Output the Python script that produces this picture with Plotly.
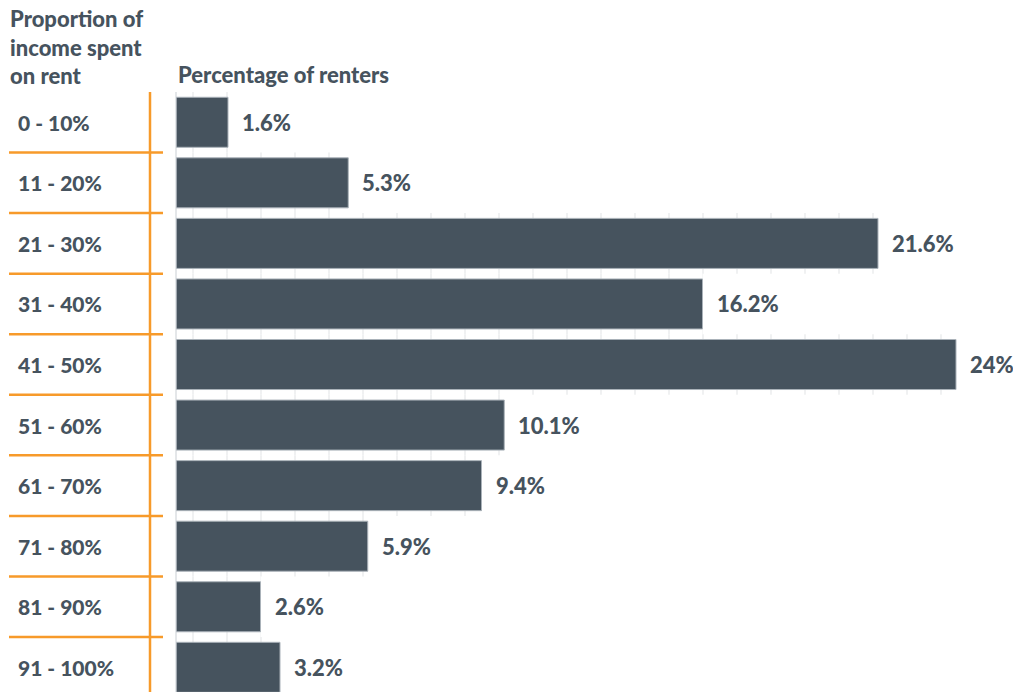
import plotly.graph_objects as go

categories = ["0 - 10%", "11 - 20%", "21 - 30%", "31 - 40%", "41 - 50%",
              "51 - 60%", "61 - 70%", "71 - 80%", "81 - 90%", "91 - 100%"]
values = [1.6, 5.3, 21.6, 16.2, 24.0, 10.1, 9.4, 5.9, 2.6, 3.2]
value_labels = ["1.6%", "5.3%", "21.6%", "16.2%", "24%", "10.1%", "9.4%", "5.9%", "2.6%", "3.2%"]

W, H = 1013, 692
ML, MT = 176, 92
plot_w = W - ML
px_per_unit = 32.5
x_max = plot_w / px_per_unit
pitch = 60.56
y_span = (H - MT) / pitch

BAR = "#46535e"
TXT = "#46535e"
ORANGE = "#f79a2a"
FONT = "Lato"
WEIGHT = 900

n = len(categories)
ypos = list(range(n))

fig = go.Figure()
# faint grid band behind each bar (visible only in the gaps between rows)
fig.add_trace(go.Bar(
    x=values, y=ypos, orientation="h", width=1.0,
    marker=dict(color="white", line=dict(width=0),
                pattern=dict(shape="|", size=34, solidity=0.03,
                             fgcolor="#e3e5e7", bgcolor="white", fillmode="replace")),
    hoverinfo="skip",
))
fig.add_trace(go.Bar(
    x=values, y=ypos, orientation="h",
    marker=dict(color=BAR, line=dict(color="#aab2b9", width=1)),
    hoverinfo="skip", width=0.826,
))

def xp(px):
    return (px - ML) / plot_w

def f(size):
    return dict(family=FONT, size=size, color=TXT, weight=WEIGHT)

annotations = []
for i, (v, lab) in enumerate(zip(values, value_labels)):
    annotations.append(dict(x=v, y=i, xref="x", yref="y", text=lab,
                            showarrow=False, xanchor="left", xshift=12, font=f(22)))
for i, c in enumerate(categories):
    annotations.append(dict(x=xp(16), y=i, xref="paper", yref="y", text=c,
                            showarrow=False, xanchor="left", font=f(21)))
annotations.append(dict(x=xp(8), y=1 + (MT - 3) / (H - MT), xref="paper", yref="paper",
                        text="Proportion of<br>income spent<br>on rent",
                        showarrow=False, xanchor="left", yanchor="top", align="left",
                        font=f(22)))
annotations.append(dict(x=0, y=1 + 2 / (H - MT), xref="paper", yref="paper",
                        text="Percentage of renters",
                        showarrow=False, xanchor="left", yanchor="bottom", font=f(22)))

shapes = []
for i in range(n - 1):
    shapes.append(dict(type="line", xref="paper", yref="y", x0=xp(9), x1=xp(163),
                       y0=i + 0.5, y1=i + 0.5, line=dict(color=ORANGE, width=2.5)))
shapes.append(dict(type="line", xref="paper", yref="paper", x0=xp(150), x1=xp(150),
                   y0=0, y1=1, line=dict(color=ORANGE, width=2.5)))
shapes.append(dict(type="line", xref="paper", yref="paper", x0=0, x1=0,
                   y0=0, y1=1, line=dict(color="#c9ced3", width=1)))

fig.update_layout(
    width=W, height=H,
    margin=dict(l=ML, r=0, t=MT, b=0, pad=0),
    paper_bgcolor="white", plot_bgcolor="white",
    showlegend=False, barmode="overlay",
    xaxis=dict(range=[0, x_max], showticklabels=False, ticks="",
               showgrid=False, zeroline=False, showline=False),
    yaxis=dict(range=[-0.5 + y_span, -0.5], showticklabels=False, ticks="",
               showgrid=False, zeroline=False, showline=False),
    annotations=annotations, shapes=shapes,
)

fig.write_html("out.html")
